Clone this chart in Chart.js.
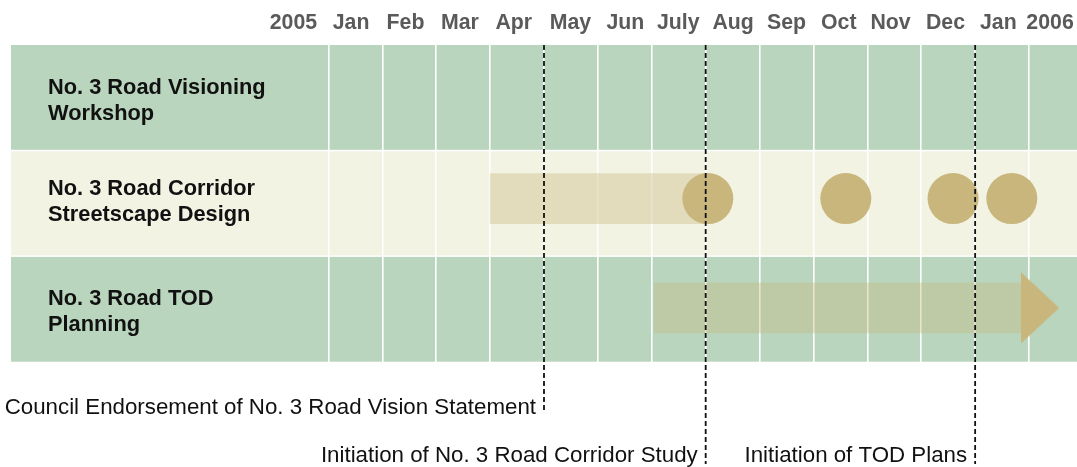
<!DOCTYPE html>
<html>
<head>
<meta charset="utf-8">
<script src="https://cdn.jsdelivr.net/npm/chart.js@4/dist/chart.umd.min.js"></script>
<style>
html,body{margin:0;padding:0;background:#ffffff;}
canvas{display:block;}
</style>
</head>
<body>
<canvas id="c" width="1077" height="467"></canvas>
<script>
// ---- data ----
const headerLabels = ['2005','Jan','Feb','Mar','Apr','May','Jun','July','Aug','Sep','Oct','Nov','Dec','Jan','2006'];
const headerPositions = [-0.65,0.42,1.43,2.44,3.44,4.49,5.51,6.49,7.51,8.5,9.47,10.43,11.45,12.43,13.39];
const monthBoundaries = [0,1,2,3,4,5,6,7,8,9,10,11,12,13];

const rowLabels = [
  ['No. 3 Road Visioning','Workshop'],
  ['No. 3 Road Corridor','Streetscape Design'],
  ['No. 3 Road TOD','Planning']
];
const rowLabelPositions = [0.53,1.49,2.53];

const barStarts = [3.0, 6.05];
const barEnds   = [7.0, 12.85];
const barRows   = [1.455, 2.49];
const arrowTipX = 13.56;

const milestoneX   = [7.04, 9.6, 11.59, 12.68];
const milestoneRow = [1.455, 1.455, 1.455, 1.455];

const markerX       = [4, 7, 12];
const markerEnd     = [3.485, 3.97, 3.97];
const markerText    = ['Council Endorsement of No. 3 Road Vision Statement','Initiation of No. 3 Road Corridor Study','Initiation of TOD Plans'];
const markerTextRow = [3.44, 3.89, 3.89];

// ---- styles ----
const rowColors = ['#b9d5bd','#f2f3e3','#b9d5bd'];
const tan = 'rgb(200,182,125)';
const tanSoft = 'rgba(200,182,125,0.38)';

// arrow head image used as a point style
const head = document.createElement('canvas');
head.width = 38; head.height = 71;
(function(){
  const g = head.getContext('2d');
  g.fillStyle = tan;
  g.beginPath(); g.moveTo(0,0); g.lineTo(38,35.5); g.lineTo(0,71); g.closePath(); g.fill();
})();

function noPad(s){ s.paddingLeft = 0; s.paddingRight = 0; s.paddingTop = 0; s.paddingBottom = 0; }

const decor = {
  id: 'decor',
  beforeDraw(chart){
    const {ctx, chartArea:a, scales:{y}} = chart;
    ctx.save();
    rowLabels.forEach((_, i) => {
      const top = y.getPixelForValue(i) + (i > 0 ? 0.75 : 0);
      const bot = y.getPixelForValue(i + 1) - (i < rowLabels.length - 1 ? 0.75 : 0);
      ctx.fillStyle = rowColors[i];
      ctx.fillRect(a.left, top, a.right - a.left, bot - top);
    });
    ctx.restore();
  },
  afterDraw(chart){
    const {ctx, scales:{x, y}} = chart;
    ctx.save();
    ctx.font = '22.3px "Liberation Sans", Arial, sans-serif';
    ctx.fillStyle = '#111111';
    ctx.textAlign = 'right';
    ctx.textBaseline = 'middle';
    markerText.forEach((t, i) => {
      ctx.fillText(t, x.getPixelForValue(markerX[i]) - 8, y.getPixelForValue(markerTextRow[i]));
    });
    ctx.restore();
  }
};

const datasets = [];
markerX.forEach((mx, i) => {
  datasets.push({
    type: 'line',
    data: [{x: mx, y: 0}, {x: mx, y: markerEnd[i]}],
    borderColor: '#111111', borderWidth: 1.8, borderDash: [5, 3],
    pointRadius: 0, clip: false, order: 0
  });
});
datasets.push({
  type: 'scatter',
  data: [{x: (barEnds[1] + arrowTipX) / 2, y: barRows[1]}],
  pointStyle: head, pointRadius: 20, order: 1
});
datasets.push({
  type: 'scatter',
  data: milestoneX.map((v, i) => ({x: v, y: milestoneRow[i]})),
  pointRadius: 25.5, backgroundColor: tan, borderWidth: 0, order: 2
});
datasets.push({
  type: 'bar',
  indexAxis: 'y',
  data: barStarts.map((s, i) => ({x: [s, barEnds[i]], y: barRows[i]})),
  backgroundColor: tanSoft, borderWidth: 0, barThickness: 50, order: 3
});

new Chart(document.getElementById('c'), {
  type: 'scatter',
  data: { datasets },
  options: {
    responsive: false,
    animation: false,
    devicePixelRatio: 1,
    events: [],
    layout: { autoPadding: false, padding: { left: 11, right: 0, top: 0, bottom: 105.3 } },
    plugins: { legend: { display: false }, tooltip: { enabled: false } },
    scales: {
      x: {
        type: 'linear', position: 'top', min: -5.89, max: 13.89, offset: false,
        grid: { display: false, drawTicks: false }, border: { display: false },
        afterBuildTicks: s => { s.ticks = headerPositions.map(v => ({value: v})); },
        afterFit: s => { s.height = 45; noPad(s); },
        ticks: {
          autoSkip: false, maxRotation: 0, minRotation: 0, padding: 9,
          color: '#5a5a5a',
          font: { family: '"Liberation Sans", Arial, sans-serif', size: 21.3, weight: 'bold' },
          callback: (v, i) => headerLabels[i]
        }
      },
      x2: {
        type: 'linear', axis: 'x', position: 'bottom', min: -5.89, max: 13.89, offset: false,
        grid: { color: '#ffffff', lineWidth: 1.6, drawTicks: false },
        border: { display: false },
        afterBuildTicks: s => { s.ticks = monthBoundaries.map(v => ({value: v})); },
        afterFit: s => { s.height = 0; noPad(s); },
        ticks: { display: false }
      },
      y: {
        type: 'linear', position: 'left', min: 0, max: 3, reverse: true, offset: false,
        grid: { display: false, drawTicks: false }, border: { display: false },
        afterBuildTicks: s => { s.ticks = rowLabelPositions.map(v => ({value: v})); },
        afterFit: s => { s.width = 0; noPad(s); },
        ticks: {
          mirror: true, padding: 37, color: '#111111',
          font: { family: '"Liberation Sans", Arial, sans-serif', size: 21.8, weight: 'bold', lineHeight: 1.2 },
          callback: (v, i) => rowLabels[i]
        }
      }
    }
  },
  plugins: [decor]
});
</script>
</body>
</html>
